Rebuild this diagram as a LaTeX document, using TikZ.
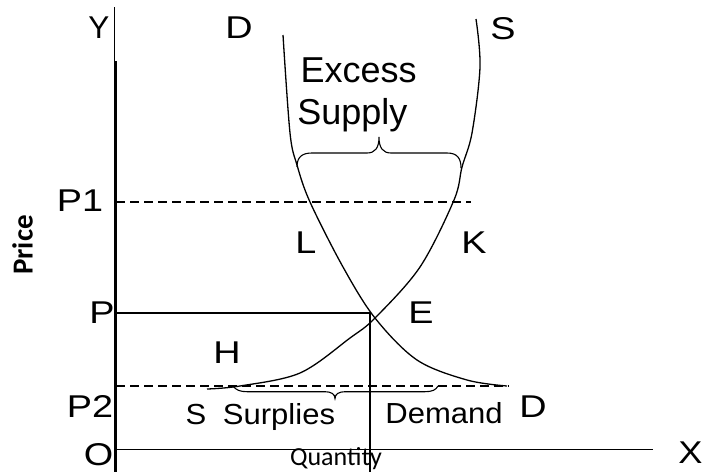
\documentclass[tikz,border=0pt]{standalone}
\usepackage{fontspec}
\setmainfont{Liberation Sans}
\newfontfamily\calibri{Carlito}
\newcommand\stretchtxt[2]{\scalebox{#1}[1]{#2}}
\begin{document}
\begin{tikzpicture}[x=1pt,y=-1pt,
  lbl/.style={font=\fontsize{31.5}{37}\selectfont, inner sep=0pt, anchor=base},
  mid/.style={font=\fontsize{29}{35}\selectfont, inner sep=0pt, anchor=base},
  big/.style={font=\fontsize{36}{42}\selectfont, inner sep=0pt, anchor=base},
  curve/.style={line width=1.3pt},
  guide/.style={line width=1.4pt, dash pattern=on 9pt off 5pt},
  brace/.style={line width=1.1pt}]
\useasboundingbox (0,0) rectangle (703,472);
% axes
\coordinate (ytop) at (114,7);
\coordinate (ybot) at (114,472);
\coordinate (ythk) at (116,61);
\coordinate (ythkbot) at (116,472);
\coordinate (xo) at (116,449.5);
\coordinate (xend) at (653,449.5);
\draw[line width=0.9pt] (ytop) -- (ybot);
\draw[line width=2.4pt] (ythk) -- (ythkbot);
\draw[line width=1.3pt] (xo) -- (xend);
% price lines
\coordinate (p1a) at (116,202);
\coordinate (p1b) at (471,202);
\coordinate (p2a) at (116,386);
\coordinate (p2b) at (509,386);
\coordinate (pa) at (116,313);
\coordinate (corner) at (370,313);
\coordinate (qb) at (370,472);
\draw[guide] (p1a) -- (p1b);
\draw[guide] (p2a) -- (p2b);
\draw[line width=1.2pt] (pa) -- (corner) -- (qb);
% demand curve
\draw[curve] plot[smooth, tension=0.55] coordinates {(283,35) (290,133) (297,165) (310,202) (343,267) (375,318) (417,360) (467,380) (507,386)};
% supply curve
\draw[curve] plot[smooth, tension=0.55] coordinates {(476,19) (480,67) (472,133) (462,167) (454,200) (420,267) (375,318) (350,338) (300,373) (240,386) (207,389)};
% top brace
\coordinate (tbl) at (297,167);
\coordinate (tbr) at (461,168);
\draw[brace] (tbl) .. controls (297,157) and (302,153) .. (312,153) -- (367,153)
  .. controls (375,153) and (379,148) .. (379,137)
  .. controls (379,148) and (383,153) .. (391,153) -- (447,153)
  .. controls (457,153) and (461,158) .. (tbr);
% bottom brace
\coordinate (bbl) at (233,386);
\coordinate (bbr) at (438,386);
\draw[brace] (bbl) .. controls (236,390) and (240,391.7) .. (247,391.7) -- (325,391.7)
  .. controls (331,391.7) and (335,394) .. (335,398.5)
  .. controls (335,394) and (339,391.7) .. (345,391.7) -- (425,391.7)
  .. controls (432,391.7) and (436,390) .. (bbr);
% labels
\node[lbl] (Y) at (99,38) {Y};
\node[lbl] (Dtop) at (239,38) {\stretchtxt{1.2}{D}};
\node[lbl] (Stop) at (503,39) {\stretchtxt{1.2}{S}};
\node[big] (excess) at (358.7,82) {Excess};
\node[big] (supply) at (352.4,124) {Supply};
\node[lbl] (P1) at (80,211) {\stretchtxt{1.2}{P1}};
\node[lbl] (L) at (306,253) {\stretchtxt{1.2}{L}};
\node[lbl] (K) at (474,253) {\stretchtxt{1.2}{K}};
\node[inner sep=0pt, rotate=90, font=\calibri\bfseries\fontsize{29}{35}\selectfont] (price) at (22.5,245) {Price};
\node[lbl] (P) at (102,323) {\stretchtxt{1.2}{P}};
\node[lbl] (E) at (421,323) {\stretchtxt{1.2}{E}};
\node[lbl] (H) at (227,363) {\stretchtxt{1.2}{H}};
\node[lbl] (P2) at (90,417) {\stretchtxt{1.2}{P2}};
\node[mid] (Sbot) at (196,424) {\stretchtxt{1.07}{S}};
\node[mid] (surplies) at (279,424) {\stretchtxt{1.07}{Surplies}};
\node[mid] (demand) at (444,423) {\stretchtxt{1.07}{Demand}};
\node[lbl] (Dbot) at (533,417) {\stretchtxt{1.2}{D}};
\node[lbl] (O) at (98.5,465) {\stretchtxt{1.2}{O}};
\node[lbl] (X) at (690.5,463) {\stretchtxt{1.15}{X}};
\node[inner sep=0pt, anchor=base, font=\calibri\fontsize{26}{31}\selectfont] (quantity) at (336,465.5) {Quantity};
\end{tikzpicture}
\end{document}
